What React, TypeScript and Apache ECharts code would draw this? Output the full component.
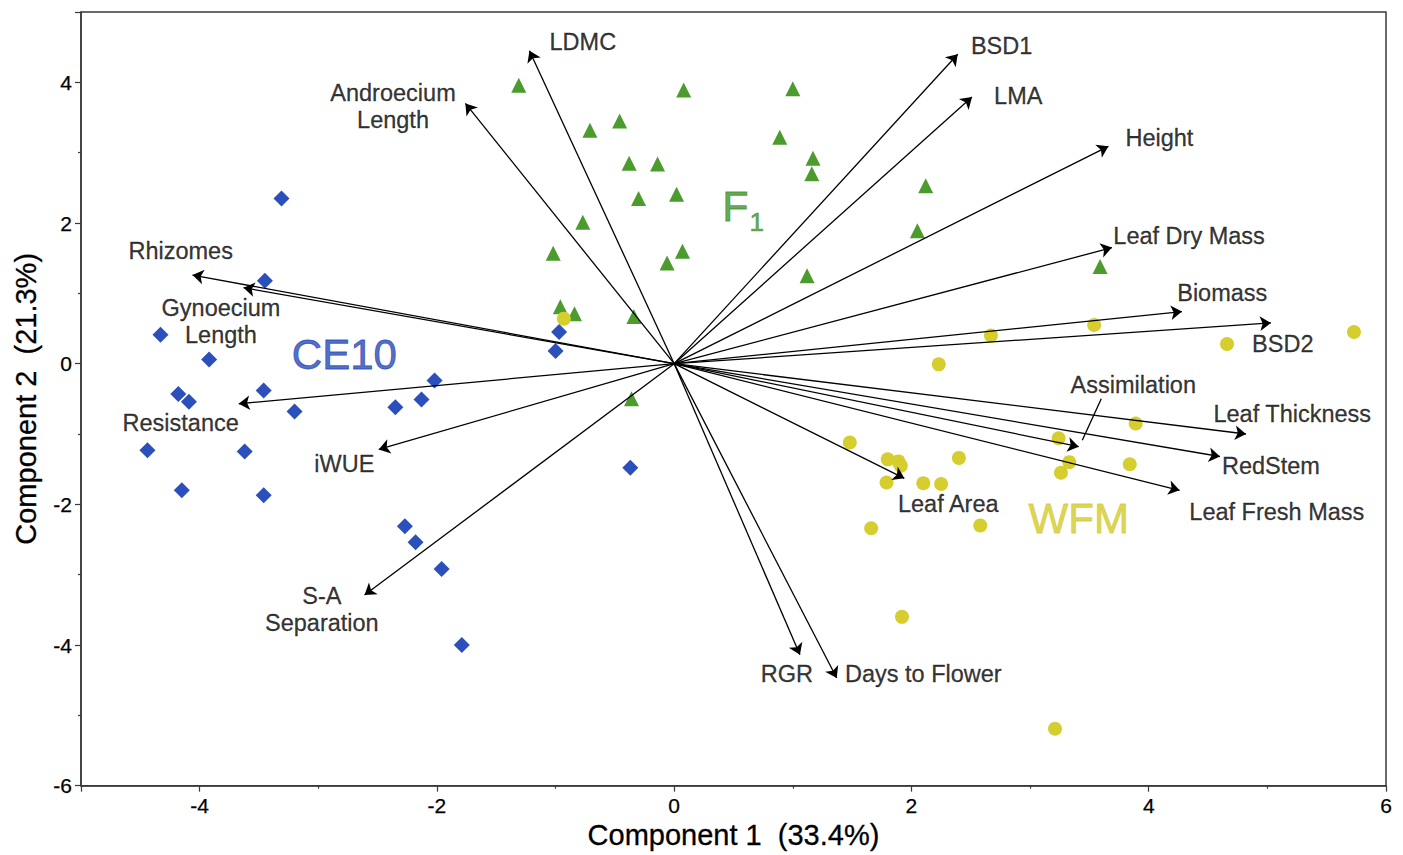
import React, { useEffect, useRef } from "react";
import * as echarts from "echarts";

// CE10 group (blue diamonds)
const ce10X = [-3.31, -3.45, -4.33, -3.92, -4.18, -4.09, -3.46, -3.2, -4.44, -3.62, -4.15, -3.46, -2.02, -2.13, -2.35, -0.97, -1.0, -0.37, -2.27, -2.18, -1.96, -1.79];
const ce10Y = [2.35, 1.18, 0.41, 0.06, -0.43, -0.54, -0.38, -0.68, -1.23, -1.25, -1.8, -1.87, -0.24, -0.51, -0.62, 0.45, 0.18, -1.48, -2.31, -2.54, -2.92, -4.0];

// F1 group (green triangles)
const f1X = [-1.31, 0.08, 1.0, -0.46, -0.71, 0.89, -0.38, -0.14, 1.17, 1.16, -0.3, 0.02, -0.77, -1.02, 0.07, -0.06, 1.12, -0.96, -0.84, -0.34, -0.36, 2.12, 2.05, 3.59];
const f1Y = [3.96, 3.89, 3.91, 3.45, 3.32, 3.22, 2.85, 2.84, 2.92, 2.7, 2.35, 2.41, 2.01, 1.57, 1.6, 1.43, 1.25, 0.81, 0.71, 0.67, -0.5, 2.53, 1.89, 1.38];

// WFM group (yellow circles)
const wfmX = [2.67, 3.54, 2.23, 1.48, 1.8, 1.89, 1.91, 2.4, 3.24, 3.33, 3.26, 1.79, 2.1, 2.25, 1.66, 2.58, 4.66, 5.73, 3.89, 3.84, 1.92, 3.21, -0.93];
const wfmY = [0.4, 0.55, -0.01, -1.12, -1.36, -1.39, -1.45, -1.34, -1.06, -1.4, -1.55, -1.69, -1.7, -1.71, -2.34, -2.3, 0.28, 0.45, -0.85, -1.43, -3.6, -5.19, 0.64];

// Trait loadings (arrows from origin)
const loadingNames = [
  "LDMC", "Androecium\nLength", "BSD1", "LMA", "Height", "Leaf Dry Mass", "Biomass", "BSD2",
  "Leaf Thickness", "RedStem", "Leaf Fresh Mass", "Assimilation", "Leaf Area", "RGR",
  "Days to Flower", "S-A\nSeparation", "iWUE", "Resistance", "Rhizomes", "Gynoecium\nLength",
];
const loadingX = [-1.22, -1.76, 2.39, 2.51, 3.66, 3.69, 4.28, 5.03, 4.82, 4.6, 4.26, 3.41, 1.94, 1.06, 1.37, -2.61, -2.49, -3.67, -4.06, -3.63];
const loadingY = [4.45, 3.7, 4.4, 3.79, 3.09, 1.65, 0.74, 0.58, -1.0, -1.32, -1.8, -1.18, -1.63, -4.14, -4.47, -3.29, -1.22, -0.57, 1.26, 1.08];
// Label anchor positions (data units)
const labelX = [-0.77, -2.37, 2.76, 2.9, 4.09, 4.34, 4.62, 5.13, 5.21, 5.03, 5.08, 3.87, 2.31, 0.95, 2.1, -2.97, -2.78, -4.16, -4.16, -3.82];
const labelY = [4.57, 3.65, 4.52, 3.8, 3.21, 1.82, 1.01, 0.28, -0.72, -1.45, -2.11, -0.31, -2.0, -4.41, -4.41, -3.49, -1.43, -0.85, 1.6, 0.6];

// Leader line for "Assimilation"
const leaderFrom = [3.6, -0.5];
const leaderTo = [3.44, -1.09];

// Group names and their positions
const groupNames = ["CE10", "F1", "WFM"];
const groupX = [-2.78, 0.58, 3.41];
const groupY = [0.13, 2.24, -2.2];

const BLUE = "#2b4fbb";
const GREEN = "#4b9b2d";
const YELLOW = "#d5ce2e";
const FONT = "'Liberation Sans', Arial, Helvetica, sans-serif";

export default function App() {
  const ref = useRef<HTMLDivElement>(null);

  useEffect(() => {
    if (!ref.current) return;
    const chart = echarts.init(ref.current, undefined, { renderer: "svg" });
    const axisColor = "#3a3a3a";

    const groupColors = ["#2447b8", "#3f9124", "#d3cb2a"];

    const axisLabelStyle = {
      fontSize: 21,
      color: "#000",
      margin: 9,
      fontFamily: FONT,
      textBorderColor: "#000",
      textBorderWidth: 0.25,
    };
    const nameStyle = {
      fontSize: 29,
      color: "#000",
      fontFamily: FONT,
      textBorderColor: "#000",
      textBorderWidth: 0.3,
    };

    const option: any = {
      animation: false,
      backgroundColor: "#ffffff",
      textStyle: { fontFamily: FONT },
      grid: {
        left: 81,
        right: 17,
        top: 12,
        bottom: 67,
        show: true,
        borderColor: axisColor,
        borderWidth: 1.5,
        backgroundColor: "transparent",
      },
      xAxis: {
        type: "value",
        min: -5,
        max: 6,
        minInterval: 2,
        maxInterval: 2,
        splitLine: { show: false },
        axisLine: { show: true, onZero: false, lineStyle: { color: axisColor, width: 1.5 } },
        axisTick: { show: true, inside: false, length: 6, lineStyle: { color: axisColor, width: 1.2 } },
        minorTick: { show: true, splitNumber: 2, length: 3, lineStyle: { color: axisColor, width: 1.2 } },
        minorSplitLine: { show: false },
        axisLabel: { ...axisLabelStyle, showMinLabel: false },
        name: "Component 1  (33.4%)",
        nameLocation: "middle",
        nameGap: 33,
        nameTextStyle: nameStyle,
      },
      yAxis: {
        type: "value",
        min: -6,
        max: 5,
        minInterval: 2,
        maxInterval: 2,
        splitLine: { show: false },
        axisLine: { show: true, onZero: false, lineStyle: { color: axisColor, width: 1.5 } },
        axisTick: { show: true, inside: false, length: 6, lineStyle: { color: axisColor, width: 1.2 } },
        minorTick: { show: true, splitNumber: 2, length: 3, lineStyle: { color: axisColor, width: 1.2 } },
        minorSplitLine: { show: false },
        axisLabel: { ...axisLabelStyle, showMaxLabel: false },
        name: "Component 2  (21.3%)",
        nameLocation: "middle",
        nameGap: 41,
        nameTextStyle: nameStyle,
      },
      series: [
        {
          type: "scatter",
          name: "CE10",
          symbol: "diamond",
          symbolSize: 16,
          itemStyle: { color: BLUE, opacity: 1 },
          data: ce10X.map((x, i) => [x, ce10Y[i]]),
          z: 2,
          silent: true,
        },
        {
          type: "scatter",
          name: "F1",
          symbol: "triangle",
          symbolSize: 15,
          itemStyle: { color: GREEN, opacity: 1 },
          data: f1X.map((x, i) => [x, f1Y[i]]),
          z: 2,
          silent: true,
        },
        {
          type: "scatter",
          name: "WFM",
          symbol: "circle",
          symbolSize: 14,
          itemStyle: { color: YELLOW, opacity: 1 },
          data: wfmX.map((x, i) => [x, wfmY[i]]),
          z: 2,
          silent: true,
        },
        {
          type: "lines",
          coordinateSystem: "cartesian2d",
          symbol: ["none", "arrow"],
          symbolSize: 11,
          lineStyle: { color: "#000", width: 1.3, opacity: 1, curveness: 0 },
          data: loadingNames.map((n, i) => ({ name: n, coords: [[0, 0], [loadingX[i], loadingY[i]]] })),
          z: 4,
          silent: true,
        },
        {
          type: "lines",
          coordinateSystem: "cartesian2d",
          symbol: ["none", "none"],
          lineStyle: { color: "#000", width: 1.3, opacity: 1 },
          data: [{ coords: [leaderFrom, leaderTo] }],
          z: 4,
          silent: true,
        },
        {
          type: "scatter",
          symbolSize: 1,
          itemStyle: { color: "rgba(0,0,0,0)" },
          data: loadingNames.map((n, i) => ({ name: n, value: [labelX[i], labelY[i]] })),
          label: {
            show: true,
            position: "inside",
            formatter: "{b}",
            fontSize: 23.5,
            lineHeight: 27,
            color: "#000",
            textBorderColor: "#000",
            textBorderWidth: 0.3,
            align: "center",
            verticalAlign: "middle",
            fontFamily: FONT,
          },
          z: 6,
          silent: true,
        },
        {
          type: "scatter",
          symbolSize: 1,
          itemStyle: { color: "rgba(0,0,0,0)" },
          data: groupNames.map((n, i) => ({
            name: n,
            value: [groupX[i], groupY[i]],
            label:
              n === "F1"
                ? {
                    formatter: "{f|F}{s|1}",
                    rich: {
                      f: { fontSize: 43, color: groupColors[i], fontFamily: FONT, lineHeight: 46, textBorderColor: groupColors[i], textBorderWidth: 0.8 },
                      s: { fontSize: 26, color: groupColors[i], fontFamily: FONT, verticalAlign: "bottom", lineHeight: 20, padding: [0, 0, -6, 1], textBorderColor: groupColors[i], textBorderWidth: 0.6 },
                    },
                  }
                : { formatter: "{b}", color: groupColors[i], textBorderColor: groupColors[i], textBorderWidth: 0.8 },
          })),
          label: {
            show: true,
            position: "inside",
            fontSize: 42,
            align: "center",
            verticalAlign: "middle",
            fontFamily: FONT,
          },
          z: 6,
          silent: true,
        },
      ],
    };

    chart.setOption(option);
    return () => {
      chart.dispose();
    };
  }, []);

  return (
    <div
      ref={ref}
      style={{ position: "fixed", left: 0, top: 0, width: 1403, height: 855, background: "#fff" }}
    />
  );
}
